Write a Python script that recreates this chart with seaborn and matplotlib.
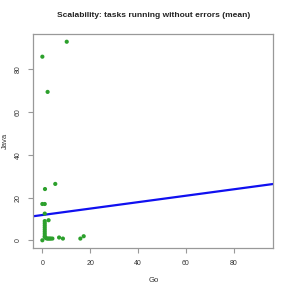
import numpy as np
import pandas as pd
import matplotlib
matplotlib.use('Agg')
import matplotlib.pyplot as plt
import seaborn as sns

# mean tasks running without errors, per benchmark
go_vals = [10.2, 0.0, 2.2, 5.4, 1.1, 0.0, 1.0, 1.0, 2.6,
           1.0, 1.0, 1.0, 1.0, 1.0, 1.0, 1.0, 1.0, 1.0,
           0.0, 1.5, 2.0, 2.5, 3.0, 3.5, 4.2, 7.0, 8.6, 15.9, 17.3]
java_vals = [93.0, 86.0, 69.5, 26.4, 24.0, 17.0, 17.0, 12.5, 9.4,
             9.0, 8.0, 7.0, 6.0, 5.0, 4.0, 3.0, 2.0, 1.5,
             0.0, 1.0, 0.8, 0.8, 0.8, 0.8, 0.8, 1.3, 0.8, 0.8, 1.9]

# fitted line (intercept, slope)
fit_intercept = 11.83
fit_slope = 0.1505

ticks = [0, 20, 40, 60, 80]

df = pd.DataFrame({'Go': go_vals, 'Java': java_vals})

sns.set_style('white')
plt.rcParams['font.family'] = ['Liberation Sans', 'DejaVu Sans']

fig = plt.figure(figsize=(2.91, 2.91), dpi=100)
ax = fig.add_axes([0.115, 0.147, 0.824, 0.736])

sns.scatterplot(data=df, x='Go', y='Java', color='#2ca02c', s=9,
                edgecolor='none', ax=ax, zorder=3)
ax.axline((0, fit_intercept), slope=fit_slope, color='#1010f0', lw=1.6, zorder=2)

ax.set_xlim(-3.72, 96.6)
ax.set_ylim(-3.72, 96.6)
ax.set_xticks(ticks)
ax.set_yticks(ticks)
ax.set_yticklabels([str(t) for t in ticks], rotation=90, va='center')

for sp in ax.spines.values():
    sp.set_color('#999999')
    sp.set_linewidth(0.9)
ax.tick_params(axis='both', length=3.5, width=0.8, color='#999999',
               labelsize=5, labelcolor='#333333', direction='out', pad=5,
               bottom=True, left=True)

ax.set_xlabel('Go', fontsize=5.5, color='#333333', labelpad=7)
ax.set_ylabel('Java', fontsize=5.5, color='#333333', labelpad=4)
ax.set_title('Scalability: tasks running without errors (mean)',
             fontsize=6, fontweight='bold', color='#222222', pad=12)

fig.savefig('out.png', dpi=100)
